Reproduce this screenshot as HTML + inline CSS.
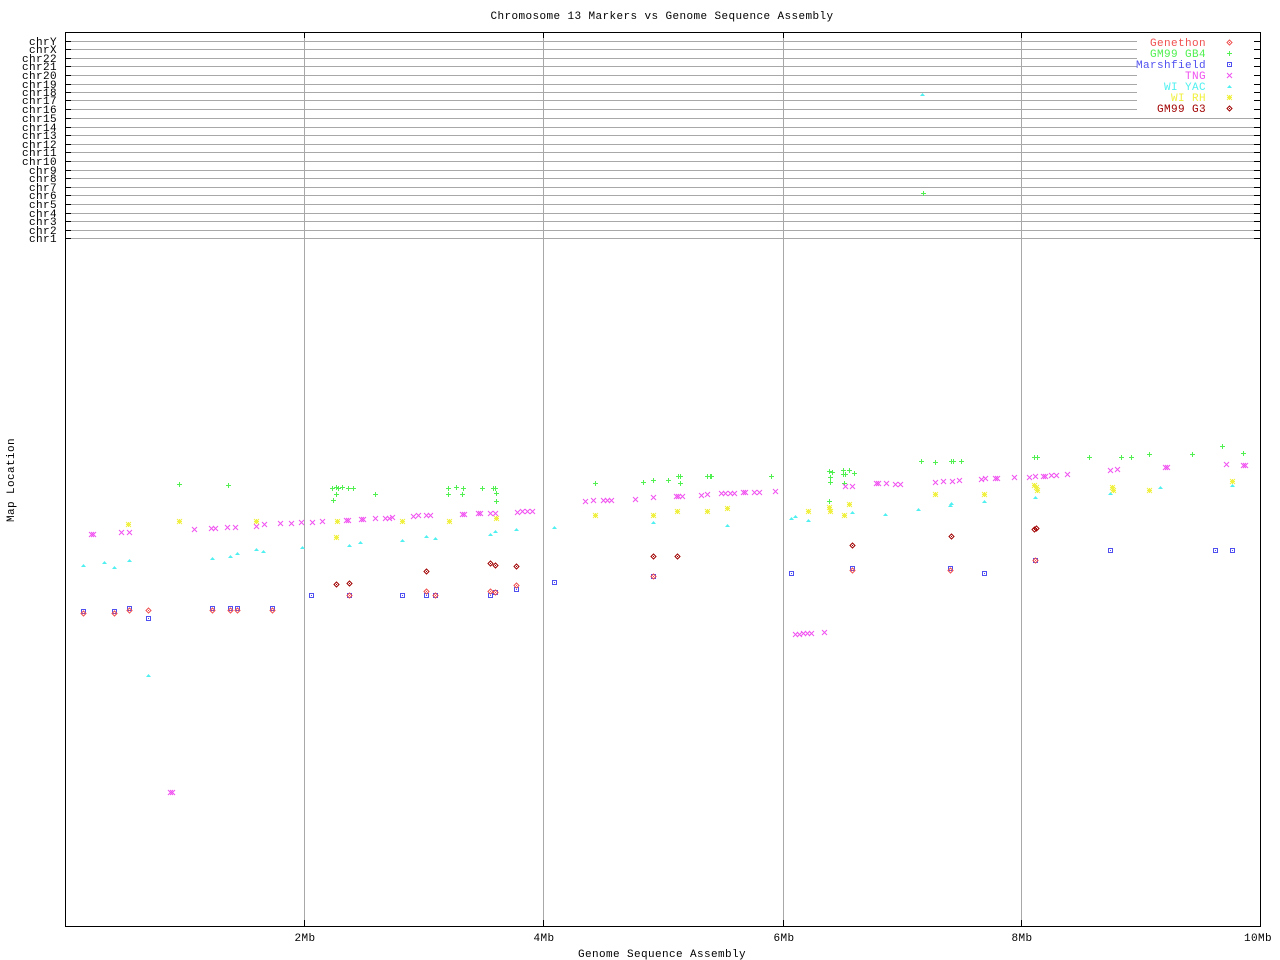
<!DOCTYPE html>
<html><head><meta charset="utf-8">
<style>
html,body{margin:0;padding:0;background:#fff;}
svg{display:block;}
text{font-family:"Liberation Mono","DejaVu Sans Mono",monospace;font-size:11px;letter-spacing:0.4px;fill:#000;}
</style></head>
<body>
<svg width="1280" height="960" viewBox="0 0 1280 960" xmlns="http://www.w3.org/2000/svg">
<defs>
<g id="pl"><path d="M-2 0.5h5M0.5 -2v5" stroke="#50f050" stroke-width="1" fill="none" shape-rendering="crispEdges"/></g>
<g id="xm"><path d="M-2 -2l5 5M3 -2l-5 5" stroke="#f050f0" stroke-width="1" fill="none"/></g>
<g id="sq"><rect x="-1.5" y="-1.5" width="4" height="4" fill="none" stroke="#5050f0" shape-rendering="crispEdges"/><rect x="0" y="0" width="1" height="1" fill="#5050f0"/></g>
<g id="tr"><path d="M-2 2h5L0.5 -1z" fill="#50f0f0"/></g>
<g id="st"><path d="M-2 -2l5 5M3 -2l-5 5M-2 0.5h5M0.5 -2v5" stroke="#f0f040" stroke-width="1" fill="none"/><rect x="-1" y="-1" width="3" height="3" fill="#f0f040"/></g>
<g id="dr"><path d="M0.5 -2L3 0.5L0.5 3L-2 0.5Z" fill="none" stroke="#f05050" stroke-width="1"/><rect x="0" y="0" width="1" height="1" fill="#f05050"/></g>
<g id="dk"><path d="M0.5 -2L3 0.5L0.5 3L-2 0.5Z" fill="none" stroke="#a00000" stroke-width="1"/><rect x="0" y="0" width="1" height="1" fill="#a00000"/></g>
</defs>
<rect width="1280" height="960" fill="#fff"/>

<!-- title -->
<text x="662" y="19" text-anchor="middle">Chromosome 13 Markers vs Genome Sequence Assembly</text>

<!-- gridlines -->
<g stroke="#a8a8a8" stroke-width="1" shape-rendering="crispEdges">
<path d="M304.5 32V926M543.5 32V926M783.5 32V926M1021.5 32V926"/>
<path d="M71 41.5H1137M71 49.5H1137M71 58.5H1137M71 66.5H1137M71 75.5H1137M71 84.5H1137M71 92.5H1137M71 100.5H1137M71 109.5H1137"/>
<path d="M71 118.5H1254M71 127.5H1254M71 135.5H1254M71 144.5H1254M71 152.5H1254M71 161.5H1254M71 170.5H1254M71 178.5H1254M71 187.5H1254M71 195.5H1254M71 204.5H1254M71 213.5H1254M71 221.5H1254M71 230.5H1254M71 238.5H1254"/>
</g>
<!-- ticks -->
<g stroke="#000" stroke-width="1" shape-rendering="crispEdges">
<path d="M65 41.5h6M65 49.5h6M65 58.5h6M65 66.5h6M65 75.5h6M65 84.5h6M65 92.5h6M65 100.5h6M65 109.5h6M65 118.5h6M65 127.5h6M65 135.5h6M65 144.5h6M65 152.5h6M65 161.5h6M65 170.5h6M65 178.5h6M65 187.5h6M65 195.5h6M65 204.5h6M65 213.5h6M65 221.5h6M65 230.5h6M65 238.5h6"/>
<path d="M1254 41.5h6M1254 49.5h6M1254 58.5h6M1254 66.5h6M1254 75.5h6M1254 84.5h6M1254 92.5h6M1254 100.5h6M1254 109.5h6M1254 118.5h6M1254 127.5h6M1254 135.5h6M1254 144.5h6M1254 152.5h6M1254 161.5h6M1254 170.5h6M1254 178.5h6M1254 187.5h6M1254 195.5h6M1254 204.5h6M1254 213.5h6M1254 221.5h6M1254 230.5h6M1254 238.5h6"/>
<path d="M304.5 32v6M543.5 32v6M783.5 32v6M1021.5 32v6M304.5 920v6M543.5 920v6M783.5 920v6M1021.5 920v6"/>
<rect x="65.5" y="32.5" width="1195" height="894" fill="none"/>
</g>

<!-- y labels -->
<g text-anchor="end">
<text x="57" y="45">chrY</text><text x="57" y="53">chrX</text><text x="57" y="62">chr22</text><text x="57" y="70">chr21</text>
<text x="57" y="79">chr20</text><text x="57" y="88">chr19</text><text x="57" y="96">chr18</text><text x="57" y="104">chr17</text>
<text x="57" y="113">chr16</text><text x="57" y="122">chr15</text><text x="57" y="131">chr14</text><text x="57" y="139">chr13</text>
<text x="57" y="148">chr12</text><text x="57" y="156">chr11</text><text x="57" y="165">chr10</text><text x="57" y="174">chr9</text>
<text x="57" y="182">chr8</text><text x="57" y="191">chr7</text><text x="57" y="199">chr6</text><text x="57" y="208">chr5</text>
<text x="57" y="217">chr4</text><text x="57" y="225">chr3</text><text x="57" y="234">chr2</text><text x="57" y="242">chr1</text>
</g>

<!-- x labels -->
<g text-anchor="middle">
<text x="305" y="941">2Mb</text><text x="544" y="941">4Mb</text><text x="784" y="941">6Mb</text><text x="1022" y="941">8Mb</text><text x="1258" y="941">10Mb</text>
<text x="662" y="957">Genome Sequence Assembly</text>
</g>
<text transform="translate(14,480) rotate(-90)" text-anchor="middle">Map Location</text>

<!-- legend -->
<g text-anchor="end">
<text x="1206" y="46" style="fill:#f05050">Genethon</text>
<text x="1206" y="57" style="fill:#50f050">GM99 GB4</text>
<text x="1206" y="68" style="fill:#5050f0">Marshfield</text>
<text x="1206" y="79" style="fill:#f050f0">TNG</text>
<text x="1206" y="90" style="fill:#50f0f0">WI YAC</text>
<text x="1206" y="101" style="fill:#f0f040">WI RH</text>
<text x="1206" y="112" style="fill:#a00000">GM99 G3</text>
</g>
<use href="#dr" x="1229" y="42"/>
<use href="#pl" x="1229" y="53"/>
<use href="#sq" x="1229" y="64"/>
<use href="#xm" x="1229" y="75"/>
<use href="#tr" x="1229" y="86"/>
<use href="#st" x="1229" y="97"/>
<use href="#dk" x="1229" y="108"/>

<!-- WI YAC -->
<g>
<use href="#tr" x="83" y="565"/><use href="#tr" x="104" y="562"/><use href="#tr" x="114" y="567"/><use href="#tr" x="129" y="560"/>
<use href="#tr" x="148" y="675"/><use href="#tr" x="212" y="558"/><use href="#tr" x="230" y="556"/><use href="#tr" x="237" y="553"/>
<use href="#tr" x="256" y="549"/><use href="#tr" x="263" y="551"/><use href="#tr" x="302" y="547"/><use href="#tr" x="349" y="545"/>
<use href="#tr" x="360" y="542"/><use href="#tr" x="402" y="540"/><use href="#tr" x="426" y="536"/><use href="#tr" x="435" y="538"/>
<use href="#tr" x="490" y="534"/><use href="#tr" x="495" y="531"/><use href="#tr" x="516" y="529"/><use href="#tr" x="554" y="527"/>
<use href="#tr" x="653" y="522"/><use href="#tr" x="727" y="525"/><use href="#tr" x="791" y="518"/><use href="#tr" x="795" y="516"/>
<use href="#tr" x="808" y="520"/><use href="#tr" x="852" y="512"/><use href="#tr" x="885" y="514"/><use href="#tr" x="918" y="509"/>
<use href="#tr" x="950" y="505"/><use href="#tr" x="951" y="503"/><use href="#tr" x="984" y="501"/><use href="#tr" x="1035" y="497"/>
<use href="#tr" x="1110" y="493"/><use href="#tr" x="1160" y="487"/><use href="#tr" x="1232" y="485"/><use href="#tr" x="922" y="94"/>
</g>

<!-- WI RH -->
<g>
<use href="#st" x="128" y="524"/><use href="#st" x="179" y="521"/><use href="#st" x="256" y="521"/><use href="#st" x="337" y="521"/>
<use href="#st" x="336" y="537"/><use href="#st" x="402" y="521"/><use href="#st" x="449" y="521"/><use href="#st" x="496" y="518"/>
<use href="#st" x="595" y="515"/><use href="#st" x="653" y="515"/><use href="#st" x="677" y="511"/><use href="#st" x="707" y="511"/>
<use href="#st" x="727" y="508"/><use href="#st" x="808" y="511"/><use href="#st" x="829" y="507"/><use href="#st" x="830" y="511"/>
<use href="#st" x="849" y="504"/><use href="#st" x="844" y="515"/><use href="#st" x="935" y="494"/><use href="#st" x="984" y="494"/>
<use href="#st" x="1034" y="485"/><use href="#st" x="1036" y="487"/><use href="#st" x="1037" y="490"/><use href="#st" x="1112" y="487"/>
<use href="#st" x="1113" y="490"/><use href="#st" x="1149" y="490"/><use href="#st" x="1232" y="481"/>
</g>

<!-- GM99 GB4 -->
<g>
<use href="#pl" x="179" y="484"/><use href="#pl" x="228" y="485"/><use href="#pl" x="332" y="488"/><use href="#pl" x="336" y="487"/>
<use href="#pl" x="338" y="488"/><use href="#pl" x="342" y="487"/><use href="#pl" x="348" y="488"/><use href="#pl" x="353" y="488"/>
<use href="#pl" x="336" y="494"/><use href="#pl" x="333" y="500"/><use href="#pl" x="375" y="494"/><use href="#pl" x="448" y="488"/>
<use href="#pl" x="456" y="487"/><use href="#pl" x="463" y="488"/><use href="#pl" x="448" y="494"/><use href="#pl" x="462" y="494"/>
<use href="#pl" x="482" y="488"/><use href="#pl" x="493" y="488"/><use href="#pl" x="495" y="488"/><use href="#pl" x="496" y="493"/>
<use href="#pl" x="496" y="501"/><use href="#pl" x="595" y="483"/><use href="#pl" x="643" y="482"/><use href="#pl" x="653" y="480"/>
<use href="#pl" x="668" y="480"/><use href="#pl" x="678" y="476"/><use href="#pl" x="680" y="476"/><use href="#pl" x="680" y="483"/>
<use href="#pl" x="707" y="476"/><use href="#pl" x="710" y="476"/><use href="#pl" x="711" y="476"/><use href="#pl" x="771" y="476"/>
<use href="#pl" x="829" y="471"/><use href="#pl" x="832" y="472"/><use href="#pl" x="830" y="477"/><use href="#pl" x="830" y="482"/>
<use href="#pl" x="843" y="470"/><use href="#pl" x="849" y="470"/><use href="#pl" x="843" y="474"/><use href="#pl" x="845" y="474"/>
<use href="#pl" x="854" y="473"/><use href="#pl" x="829" y="501"/><use href="#pl" x="844" y="483"/><use href="#pl" x="921" y="461"/>
<use href="#pl" x="935" y="462"/><use href="#pl" x="951" y="461"/><use href="#pl" x="953" y="461"/><use href="#pl" x="961" y="461"/>
<use href="#pl" x="1034" y="457"/><use href="#pl" x="1037" y="457"/><use href="#pl" x="1089" y="457"/><use href="#pl" x="1121" y="457"/>
<use href="#pl" x="1131" y="457"/><use href="#pl" x="1149" y="454"/><use href="#pl" x="1192" y="454"/><use href="#pl" x="1222" y="446"/>
<use href="#pl" x="1243" y="453"/><use href="#pl" x="923" y="193"/>
</g>

<!-- TNG -->
<g>
<use href="#xm" x="91" y="534"/><use href="#xm" x="93" y="534"/><use href="#xm" x="121" y="532"/><use href="#xm" x="129" y="532"/>
<use href="#xm" x="194" y="529"/><use href="#xm" x="211" y="528"/><use href="#xm" x="215" y="528"/><use href="#xm" x="227" y="527"/>
<use href="#xm" x="235" y="527"/><use href="#xm" x="256" y="526"/><use href="#xm" x="264" y="524"/><use href="#xm" x="280" y="523"/>
<use href="#xm" x="291" y="523"/><use href="#xm" x="301" y="522"/><use href="#xm" x="312" y="522"/><use href="#xm" x="322" y="521"/>
<use href="#xm" x="346" y="520"/><use href="#xm" x="348" y="520"/><use href="#xm" x="361" y="519"/><use href="#xm" x="363" y="519"/>
<use href="#xm" x="375" y="518"/><use href="#xm" x="385" y="518"/><use href="#xm" x="389" y="518"/><use href="#xm" x="392" y="517"/>
<use href="#xm" x="413" y="516"/><use href="#xm" x="418" y="515"/><use href="#xm" x="426" y="515"/><use href="#xm" x="430" y="515"/>
<use href="#xm" x="462" y="514"/><use href="#xm" x="464" y="514"/><use href="#xm" x="478" y="513"/><use href="#xm" x="480" y="513"/>
<use href="#xm" x="490" y="513"/><use href="#xm" x="495" y="513"/><use href="#xm" x="517" y="512"/><use href="#xm" x="522" y="511"/>
<use href="#xm" x="527" y="511"/><use href="#xm" x="532" y="511"/><use href="#xm" x="585" y="501"/><use href="#xm" x="593" y="500"/>
<use href="#xm" x="603" y="500"/><use href="#xm" x="607" y="500"/><use href="#xm" x="611" y="500"/><use href="#xm" x="635" y="499"/>
<use href="#xm" x="653" y="497"/><use href="#xm" x="676" y="496"/><use href="#xm" x="678" y="496"/><use href="#xm" x="682" y="496"/>
<use href="#xm" x="701" y="495"/><use href="#xm" x="707" y="494"/><use href="#xm" x="721" y="493"/><use href="#xm" x="725" y="493"/>
<use href="#xm" x="730" y="493"/><use href="#xm" x="734" y="493"/><use href="#xm" x="743" y="492"/><use href="#xm" x="745" y="492"/>
<use href="#xm" x="754" y="492"/><use href="#xm" x="759" y="492"/><use href="#xm" x="775" y="491"/><use href="#xm" x="845" y="486"/>
<use href="#xm" x="852" y="486"/><use href="#xm" x="876" y="483"/><use href="#xm" x="878" y="483"/><use href="#xm" x="886" y="483"/>
<use href="#xm" x="895" y="484"/><use href="#xm" x="900" y="484"/><use href="#xm" x="935" y="482"/><use href="#xm" x="943" y="481"/>
<use href="#xm" x="952" y="481"/><use href="#xm" x="959" y="480"/><use href="#xm" x="981" y="479"/><use href="#xm" x="985" y="478"/>
<use href="#xm" x="995" y="478"/><use href="#xm" x="997" y="478"/><use href="#xm" x="1014" y="477"/><use href="#xm" x="1029" y="477"/>
<use href="#xm" x="1035" y="476"/><use href="#xm" x="1043" y="476"/><use href="#xm" x="1045" y="476"/><use href="#xm" x="1051" y="475"/>
<use href="#xm" x="1056" y="475"/><use href="#xm" x="1067" y="474"/><use href="#xm" x="1110" y="470"/><use href="#xm" x="1117" y="469"/>
<use href="#xm" x="1165" y="467"/><use href="#xm" x="1167" y="467"/><use href="#xm" x="1226" y="464"/><use href="#xm" x="1243" y="465"/>
<use href="#xm" x="1245" y="465"/><use href="#xm" x="795" y="634"/><use href="#xm" x="799" y="634"/><use href="#xm" x="803" y="633"/>
<use href="#xm" x="807" y="633"/><use href="#xm" x="811" y="633"/><use href="#xm" x="824" y="632"/><use href="#xm" x="170" y="792"/>
<use href="#xm" x="172" y="792"/>
</g>

<!-- Marshfield -->
<g>
<use href="#sq" x="83" y="611"/><use href="#sq" x="114" y="611"/><use href="#sq" x="129" y="608"/><use href="#sq" x="148" y="618"/>
<use href="#sq" x="212" y="608"/><use href="#sq" x="230" y="608"/><use href="#sq" x="237" y="608"/><use href="#sq" x="272" y="608"/>
<use href="#sq" x="311" y="595"/><use href="#sq" x="349" y="595"/><use href="#sq" x="402" y="595"/><use href="#sq" x="426" y="595"/>
<use href="#sq" x="435" y="595"/><use href="#sq" x="490" y="595"/><use href="#sq" x="495" y="592"/><use href="#sq" x="516" y="589"/>
<use href="#sq" x="554" y="582"/><use href="#sq" x="653" y="576"/><use href="#sq" x="791" y="573"/><use href="#sq" x="852" y="568"/>
<use href="#sq" x="950" y="568"/><use href="#sq" x="984" y="573"/><use href="#sq" x="1035" y="560"/><use href="#sq" x="1110" y="550"/>
<use href="#sq" x="1215" y="550"/><use href="#sq" x="1232" y="550"/>
</g>

<!-- Genethon -->
<g>
<use href="#dr" x="83" y="613"/><use href="#dr" x="114" y="613"/><use href="#dr" x="129" y="610"/><use href="#dr" x="148" y="610"/>
<use href="#dr" x="212" y="610"/><use href="#dr" x="230" y="610"/><use href="#dr" x="237" y="610"/><use href="#dr" x="272" y="610"/>
<use href="#dr" x="349" y="595"/><use href="#dr" x="435" y="595"/><use href="#dr" x="495" y="592"/><use href="#dr" x="426" y="591"/>
<use href="#dr" x="490" y="591"/><use href="#dr" x="516" y="585"/><use href="#dr" x="653" y="576"/><use href="#dr" x="852" y="570"/>
<use href="#dr" x="950" y="570"/><use href="#dr" x="1035" y="560"/>
</g>

<!-- GM99 G3 -->
<g>
<use href="#dk" x="336" y="584"/><use href="#dk" x="349" y="583"/><use href="#dk" x="426" y="571"/><use href="#dk" x="490" y="563"/>
<use href="#dk" x="495" y="565"/><use href="#dk" x="516" y="566"/><use href="#dk" x="653" y="556"/><use href="#dk" x="677" y="556"/>
<use href="#dk" x="852" y="545"/><use href="#dk" x="951" y="536"/><use href="#dk" x="1034" y="529"/><use href="#dk" x="1036" y="528"/>
</g>
</svg>
</body></html>
